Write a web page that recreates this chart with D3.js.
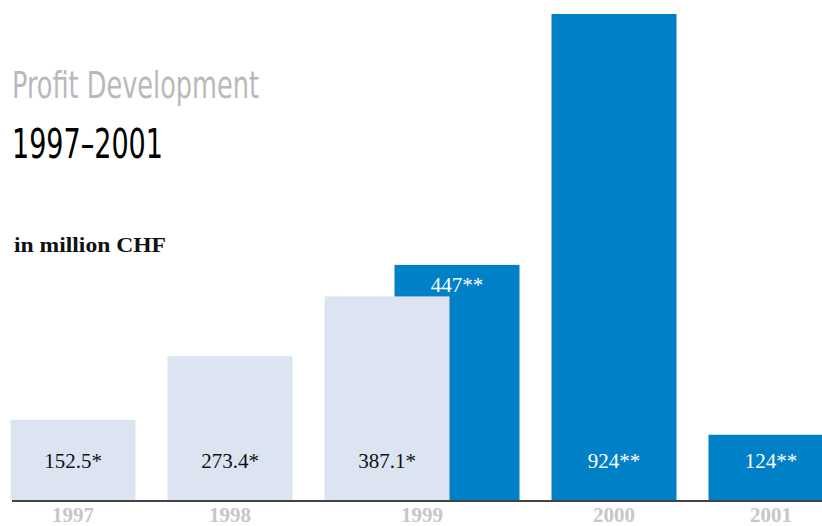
<!DOCTYPE html>
<html lang="en">
<head>
<meta charset="UTF-8">
<title>Profit Development 1997-2001</title>
<style>
  body { margin: 0; background: #fff; }
  svg { display: block; }
</style>
</head>
<body>
<script src="https://cdn.jsdelivr.net/npm/d3@7/dist/d3.min.js"></script>
<script>
  // years shown on the axis
  const years = [1997, 1998, 1999, 2000, 2001];

  // first series (light bars) and second series (blue bars)
  const oldYears = [1997, 1998, 1999];
  const oldValues = [152.5, 273.4, 387.1];
  const oldLabels = ['152.5*', '273.4*', '387.1*'];

  const newYears = [1999, 2000, 2001];
  const newValues = [447, 924, 124];
  const newLabels = ['447**', '924**', '124**'];

  const w = 822;
  const h = 526;
  const baseY = 500;
  const barW = 125;
  const shift = 70; // blue bars sit a bit right of the light ones

  const x = d3.scaleLinear()
      .domain([1997, 1998])
      .range([73, 230]);

  const y = d3.scaleLinear()
      .domain([0, 924])
      .range([baseY, 14]);

  const serif = '"Liberation Serif", "DejaVu Serif", serif';
  const narrow = '"Liberation Sans Narrow", "DejaVu Sans Condensed", "Roboto", sans-serif';

  const svg = d3.select('body')
      .append('svg')
      .attr('width', w)
      .attr('height', h);

  const oldData = oldYears.map((d, i) => ({ year: d, v: oldValues[i], label: oldLabels[i] }));
  const newData = newYears.map((d, i) => ({ year: d, v: newValues[i], label: newLabels[i] }));

  // blue bars
  svg.selectAll('rect.new')
      .data(newData)
      .enter()
      .append('rect')
      .attr('class', 'new')
      .attr('x', d => x(d.year) + shift - barW / 2)
      .attr('y', d => y(d.v))
      .attr('width', barW)
      .attr('height', d => baseY - y(d.v))
      .attr('fill', '#0080c6');

  // light bars on top, the 1999 one covers the left part of the blue 1999
  svg.selectAll('rect.old')
      .data(oldData)
      .enter()
      .append('rect')
      .attr('class', 'old')
      .attr('x', d => x(d.year) - barW / 2)
      .attr('y', d => y(d.v))
      .attr('width', barW)
      .attr('height', d => baseY - y(d.v))
      .attr('fill', '#dce4f2');

  // baseline
  svg.append('line')
      .attr('x1', 12)
      .attr('x2', w)
      .attr('y1', baseY + 1)
      .attr('y2', baseY + 1)
      .attr('stroke', '#444')
      .attr('stroke-width', 2);

  // value labels
  svg.selectAll('text.oldv')
      .data(oldData)
      .enter()
      .append('text')
      .attr('class', 'oldv')
      .text(d => d.label)
      .attr('x', d => x(d.year))
      .attr('y', 468)
      .attr('text-anchor', 'middle')
      .attr('font-family', serif)
      .attr('font-size', 21)
      .attr('fill', '#111');

  svg.selectAll('text.newv')
      .data(newData)
      .enter()
      .append('text')
      .attr('class', 'newv')
      .text(d => d.label)
      .attr('x', d => x(d.year) + shift)
      .attr('y', d => d.year === 1999 ? y(d.v) + 27 : 468)
      .attr('text-anchor', 'middle')
      .attr('font-family', serif)
      .attr('font-size', 21)
      .attr('fill', '#fff');

  // year axis labels
  svg.selectAll('text.year')
      .data(years)
      .enter()
      .append('text')
      .attr('class', 'year')
      .text(d => d)
      .attr('x', d => d === 1999 ? x(d) + shift / 2 : (d > 1999 ? x(d) + shift : x(d)))
      .attr('y', 522)
      .attr('text-anchor', 'middle')
      .attr('font-family', serif)
      .attr('font-weight', 'bold')
      .attr('font-size', 21)
      .attr('fill', '#c6c7c9');

  // titles
  svg.append('text')
      .text('Profit Development')
      .attr('x', 12)
      .attr('y', 98)
      .attr('textLength', 247)
      .attr('lengthAdjust', 'spacingAndGlyphs')
      .attr('font-family', narrow)
      .attr('font-size', 38)
      .attr('fill', '#b7babd');

  svg.append('text')
      .text('1997–2001')
      .attr('x', 12)
      .attr('y', 158)
      .attr('textLength', 151)
      .attr('lengthAdjust', 'spacingAndGlyphs')
      .attr('font-family', narrow)
      .attr('font-size', 40)
      .attr('fill', '#000');

  svg.append('text')
      .text('in million CHF')
      .attr('x', 14)
      .attr('y', 252)
      .attr('textLength', 152)
      .attr('lengthAdjust', 'spacingAndGlyphs')
      .attr('font-family', serif)
      .attr('font-weight', 'bold')
      .attr('font-size', 21)
      .attr('fill', '#111');
</script>
</body>
</html>
